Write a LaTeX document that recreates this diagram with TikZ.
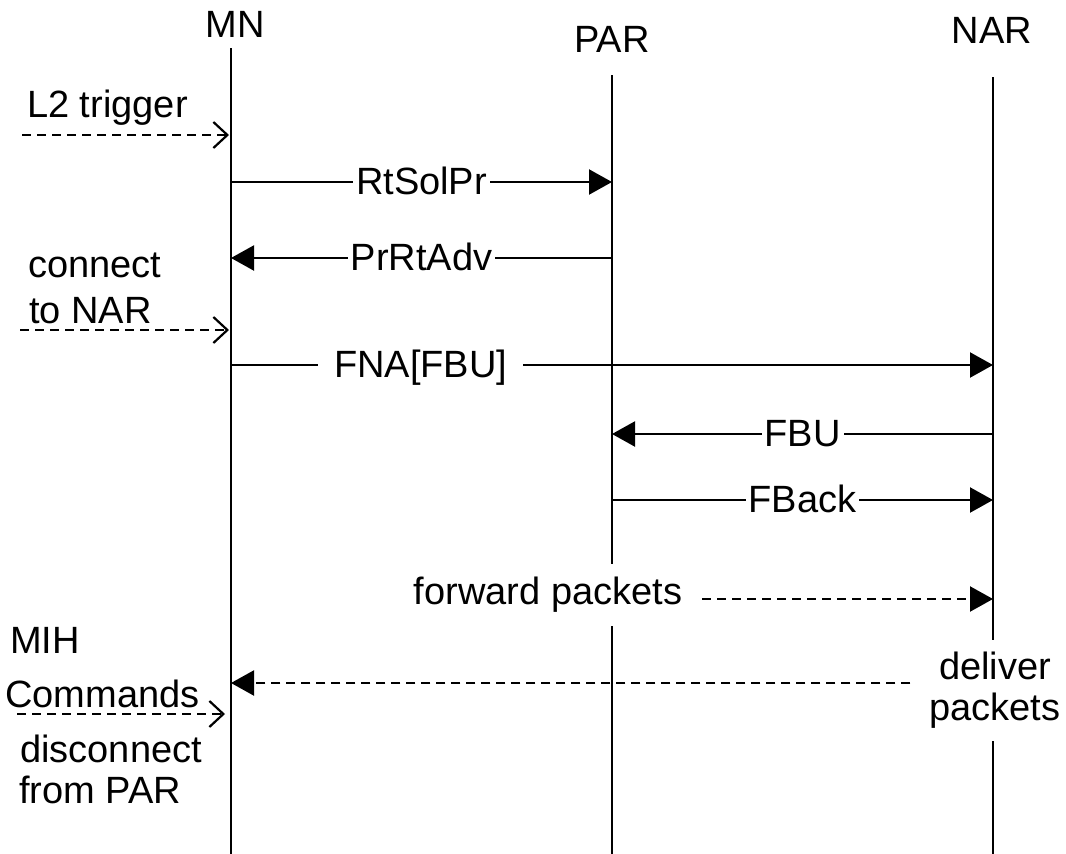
\documentclass[tikz,border=0pt]{standalone}
\usepackage{fontspec}
\setmainfont{Liberation Sans}
\usetikzlibrary{arrows.meta}
\begin{document}
\begin{tikzpicture}[x=1pt,y=-1pt,
  font=\fontsize{38}{44}\selectfont,
  life/.style={line width=2.4pt},
  msg/.style={line width=2.2pt,-{Triangle[length=23pt,width=25pt]}},
  dmsg/.style={msg,dash pattern=on 9pt off 6pt},
  trig/.style={line width=2.2pt,dash pattern=on 9pt off 6pt,
    -{Straight Barb[length=14pt,width=26pt]}},
  lbl/.style={fill=white,inner xsep=3pt,inner ysep=1pt,anchor=base,yshift=-12pt},
  head/.style={anchor=base,inner sep=0pt},
  side/.style={anchor=base west,inner sep=0pt},
]
\useasboundingbox (0,0) rectangle (1066,854);

% entity names
\node[head] (MN)  at (235,37) {MN};
\node[head] (PAR) at (612,52) {PAR};
\node[head] (NAR) at (992,43) {NAR};

% lifelines
\coordinate (mnT)  at (231,48);  \coordinate (mnB)  at (231,854);
\coordinate (parT) at (612,75);  \coordinate (parB) at (612,854);
\coordinate (narT) at (993,77);  \coordinate (narB) at (993,854);
\draw[life] (mnT) -- (mnB);
\draw[life] (parT) -- (parB);
\draw[life] (narT) -- (narB);

% message levels
\coordinate (y1) at (0,135);
\coordinate (y2) at (0,182);
\coordinate (y3) at (0,258);
\coordinate (y4) at (0,330);
\coordinate (y5) at (0,365);
\coordinate (y6) at (0,434);
\coordinate (y7) at (0,500);
\coordinate (y8) at (0,599);
\coordinate (y9) at (0,683);
\coordinate (y10) at (0,714);

% L2 trigger
\node[side] (l2) at (27,117) {L2 trigger};
\coordinate (trgA) at (22,135);
\coordinate (trgB) at (229,135);
\draw[trig] (trgA) -- (trgB);

% router solicitation / advertisement
\draw[msg] (mnT |- y2) -- node[lbl] (rts) {RtSolPr} (parT |- y2);
\draw[msg] (parT |- y3) -- node[lbl] (pra) {PrRtAdv} (mnT |- y3);

% connect to NAR
\node[side] (cn1) at (28,277) {connect};
\node[side] (cn2) at (29,323) {to NAR};
\coordinate (conA) at (20,330);
\coordinate (conB) at (229,330);
\draw[trig] (conA) -- (conB);

% fast binding messages
\draw[msg] (mnT |- y5) -- node[lbl,pos=0.249,inner xsep=16pt] (fna) {FNA[FBU]} (narT |- y5);
\draw[msg] (narT |- y6) -- node[lbl] (fbu) {FBU} (parT |- y6);
\draw[msg] (parT |- y7) -- node[lbl] (fba) {FBack} (narT |- y7);

% packet forwarding
\node[fill=white,inner xsep=20pt,inner ysep=13pt] (fwd) at (548,595) {forward packets};
\draw[dmsg] (fwd.east |- y8) -- (narT |- y8);

\node[fill=white,align=center,anchor=north,inner xsep=19pt,inner ysep=12pt,
  font=\fontsize{38}{41}\selectfont] (dlv) at (995,640) {deliver\\packets};
\draw[dmsg] (dlv.west |- y9) -- (mnT |- y9);

% MIH commands
\node[side] (mih1) at (10,653) {MIH};
\node[side] (mih2) at (5,707) {Commands};
\node[side] (mih3) at (20,762) {disconnect};
\node[side] (mih4) at (19,803) {from PAR};
\coordinate (mihA) at (17,714);
\coordinate (mihB) at (225,714);
\draw[trig] (mihA) -- (mihB);
\end{tikzpicture}
\end{document}
